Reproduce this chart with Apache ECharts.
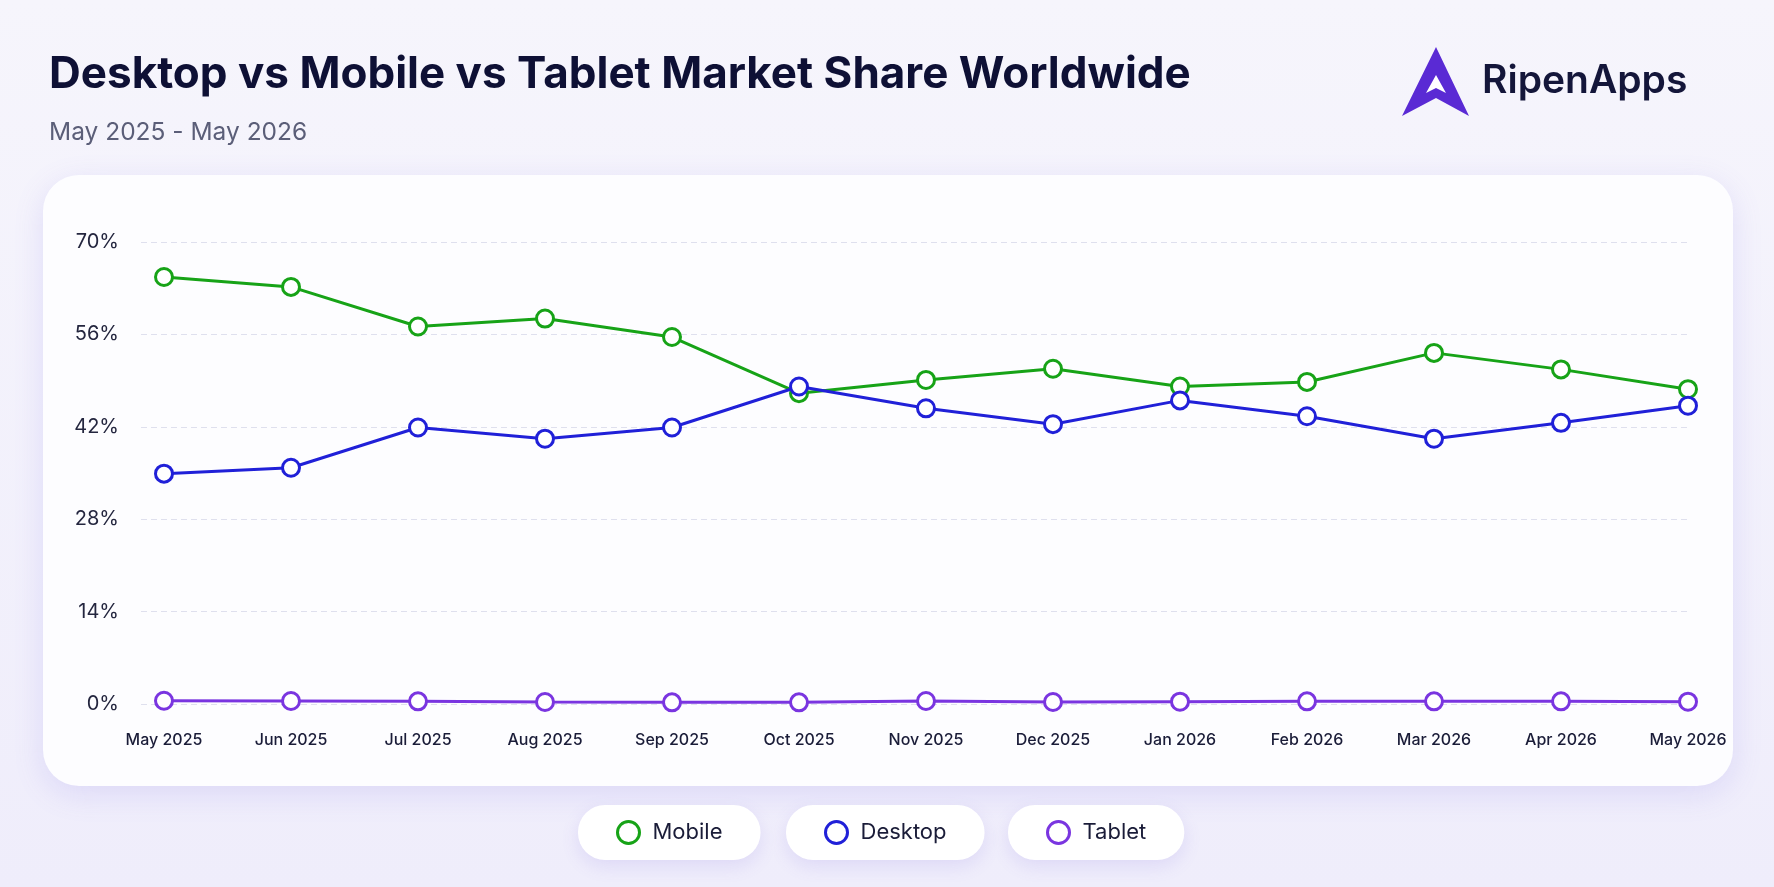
<!DOCTYPE html>
<html>
<head>
<meta charset="utf-8">
<script src="https://cdn.jsdelivr.net/npm/echarts@6/dist/echarts.min.js"></script>
<style>
    html, body { margin: 0; padding: 0; }
    body { background: linear-gradient(180deg, #f6f5fc 0%, #efedfb 100%); }
    #chart { width: 1774px; height: 887px; }
</style>
</head>
<body>
<div id="chart"></div>
<script>
var months = ['May 2025', 'Jun 2025', 'Jul 2025', 'Aug 2025', 'Sep 2025', 'Oct 2025', 'Nov 2025',
    'Dec 2025', 'Jan 2026', 'Feb 2026', 'Mar 2026', 'Apr 2026', 'May 2026'];
var mobile = [64.7, 63.2, 57.2, 58.4, 55.6, 47.1, 49.1, 50.8, 48.1, 48.8, 53.2, 50.7, 47.7];
var desktop = [34.9, 35.8, 41.9, 40.2, 41.9, 48.1, 44.8, 42.4, 46.0, 43.6, 40.2, 42.6, 45.2];
var tablet = [0.5, 0.45, 0.4, 0.3, 0.25, 0.25, 0.45, 0.3, 0.35, 0.4, 0.4, 0.4, 0.35];
var yTicks = [0, 14, 28, 42, 56, 70];

var colors = { Mobile: '#17a317', Desktop: '#2020d8', Tablet: '#7a35e0' };
var font = 'Inter, "Noto Sans", sans-serif';

var myChart = echarts.init(document.getElementById('chart'));

function lineSeries(name, data) {
    return {
        name: name,
        type: 'line',
        xAxisIndex: 1,
        yAxisIndex: 1,
        data: data,
        symbol: 'circle',
        symbolSize: 17,
        lineStyle: { width: 3, color: colors[name] },
        itemStyle: { color: '#ffffff', borderColor: colors[name], borderWidth: 3 },
        emphasis: { disabled: true },
        z: name === 'Desktop' ? 4 : 3
    };
}

function pill(name, left) {
    return {
        data: [{ name: name, icon: 'circle', itemStyle: { color: 'transparent', borderColor: colors[name], borderWidth: 3 } }],
        left: left,
        top: 805,
        padding: [15, 38, 15, 38],
        itemWidth: 22,
        itemHeight: 22,
        backgroundColor: '#ffffff',
        borderRadius: 27,
        shadowBlur: 18,
        shadowColor: 'rgba(110, 95, 220, 0.14)',
        shadowOffsetY: 6,
        selectedMode: false,
        textStyle: { fontFamily: font, fontSize: 22, color: '#1a1c38', padding: [0, 0, 0, 8] }
    };
}

var option = {
    animation: false,
    title: {
        text: 'Desktop vs Mobile vs Tablet Market Share Worldwide',
        subtext: 'May 2025 - May 2026',
        left: 44,
        top: 48,
        itemGap: 23,
        textStyle: { fontFamily: font, fontSize: 44, fontWeight: 700, color: '#0e1035' },
        subtextStyle: { fontFamily: font, fontSize: 24.5, color: '#5b5e78' }
    },
    graphic: [
        {
            type: 'rect',
            shape: { x: 43, y: 175, width: 1690, height: 611, r: 36 },
            style: { fill: '#fdfdff', shadowBlur: 30, shadowColor: 'rgba(120, 105, 230, 0.16)', shadowOffsetY: 8 },
            z: -10
        },
        {
            type: 'polygon',
            shape: { points: [[1436, 47], [1469, 116], [1436, 98], [1402, 116]] },
            style: { fill: '#5a2ad4' }
        },
        {
            type: 'polygon',
            shape: { points: [[1436, 75], [1446, 93], [1436, 88], [1426, 93]] },
            style: { fill: '#ffffff' },
            z: 101
        },
        {
            type: 'text',
            left: 1482,
            top: 62,
            style: { text: 'RipenApps', fontFamily: font, fontSize: 39, fontWeight: 600, fill: '#14163a' }
        }
    ],
    legend: [pill('Mobile', 578), pill('Desktop', 786), pill('Tablet', 1008)],
    grid: [
        { left: 141, right: 83, top: 242, bottom: 183 },
        { left: 164, right: 86, top: 242, bottom: 183 }
    ],
    xAxis: [
        { type: 'category', gridIndex: 0, data: months, show: false },
        {
            type: 'category',
            gridIndex: 1,
            data: months,
            boundaryGap: false,
            axisLine: { show: false },
            axisTick: { show: false },
            axisLabel: { margin: 28, fontFamily: font, fontSize: 16, fontWeight: 500, color: '#1a1c38', interval: 0 }
        }
    ],
    yAxis: [
        {
            type: 'value',
            gridIndex: 0,
            min: yTicks[0],
            max: yTicks[yTicks.length - 1],
            interval: 14,
            axisLine: { show: false },
            axisTick: { show: false },
            axisLabel: { margin: 22, fontFamily: font, fontSize: 20, color: '#24263f', formatter: '{value}%' },
            splitLine: { lineStyle: { color: '#dfe0ee', type: [6, 4], width: 1 } }
        },
        {
            type: 'value',
            gridIndex: 1,
            min: yTicks[0],
            max: yTicks[yTicks.length - 1],
            interval: 14,
            show: false,
            splitLine: { show: false }
        }
    ],
    series: [
        lineSeries('Mobile', mobile),
        lineSeries('Desktop', desktop),
        lineSeries('Tablet', tablet)
    ]
};
myChart.setOption(option);
</script>
</body>
</html>
